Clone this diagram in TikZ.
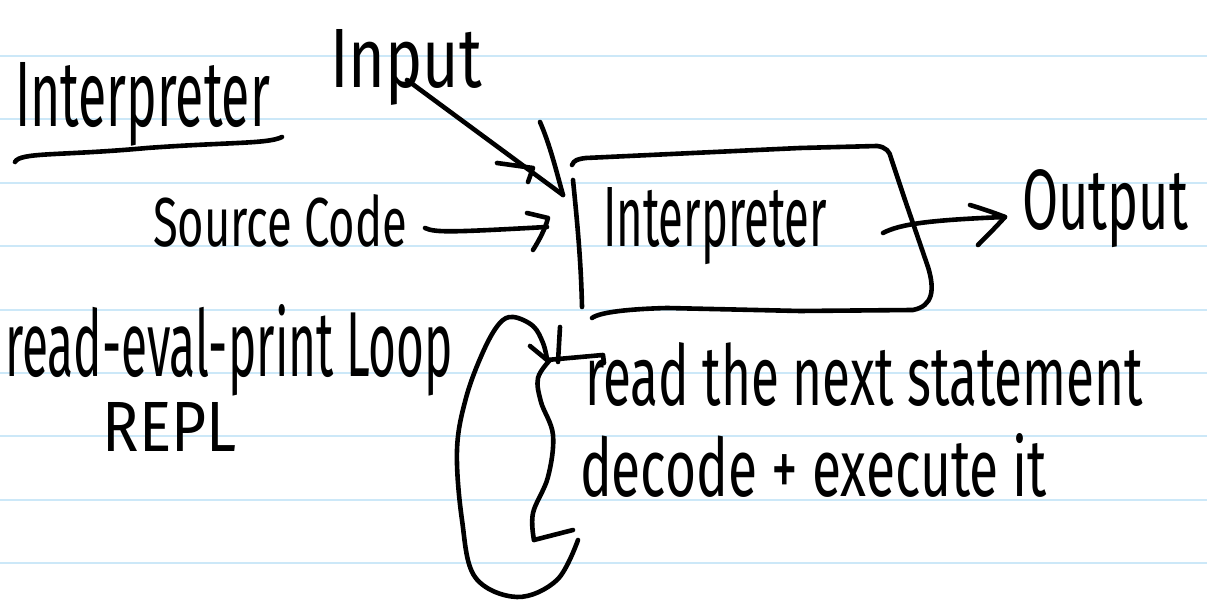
\documentclass[tikz,border=0pt]{standalone}
\usepackage{fontspec}
\setmainfont{Fira Sans}
\usepackage{graphicx}
\newlength\pxu
\setlength\pxu{0.5pt}
\newcommand{\hw}[3]{\resizebox{#1\pxu}{#2\pxu}{#3}}
\definecolor{rulecol}{RGB}{204,232,248}
\tikzset{
  pen/.style={line width=2.3pt, line cap=round, line join=round, black},
  txt/.style={inner sep=0pt, outer sep=0pt, anchor=base west},
  ruling/.style={line width=1pt, rulecol}
}
\begin{document}
\begin{tikzpicture}[x=0.5pt,y=-0.5pt]
\useasboundingbox (0,0) rectangle (1207,608);
\fill[white] (0,0) rectangle (1207,608);
% ruled lines
\foreach \k in {0,...,8}{
  \draw[ruling] (0,{56+63.4*\k}) -- (1207,{56+63.4*\k});
}
% texts
\node[txt] (title) at (15,127) {\hw{255}{64}{Interpreter}};
\node[txt] (input) at (330,88) {\hw{152}{58}{Input}};
\node[txt] (src) at (153,247) {\hw{254}{52}{Source Code}};
\node[txt] (interp) at (603,247) {\hw{224}{59}{Interpreter}};
\node[txt] (out) at (1022,230) {\hw{166}{60}{Output}};
\node[txt] (repl1) at (5,377) {\hw{448}{72}{read-eval-print Loop}};
\node[txt] (repl2) at (103,452) {\hw{134}{49}{REPL}};
\node[txt] (step1) at (585,406) {\hw{558}{63}{read the next statement}};
\node[txt] (step2) at (580,497) {\hw{467}{63}{decode + execute it}};
% underline
\draw[pen] (15,162) .. controls (20,152) and (60,156) .. (147,148)
  .. controls (230,142) and (268,144) .. (282,137);
% box
\draw[pen] (572,165) .. controls (574,160) and (578,159) .. (586,158)
  -- (800,148) -- (877,146) .. controls (886,147) and (890,152) .. (891,158)
  -- (905,200) -- (928,267) .. controls (935,290) and (933,306) .. (913,310)
  -- (800,311) -- (667,308) .. controls (630,309) and (600,312) .. (592,318);
\draw[pen] (573,180) .. controls (577,220) and (581,260) .. (582,307);
% Input arrow
\coordinate (inA) at (407,80);
\coordinate (inTip) at (563,195);
\draw[pen] (inA) -- (inTip);
\draw[pen] (540,122) .. controls (550,145) and (556,170) .. (inTip);
\draw[pen] (497,163) -- (533,168) -- (528,182);
% Source arrow
\coordinate (srcA) at (425,228);
\coordinate (srcTip) at (548,218);
\draw[pen] (srcA) .. controls (435,233) and (455,232) .. (547,227);
\draw[pen] (527,213) -- (srcTip) .. controls (545,230) and (538,242) .. (533,250);
% Output arrow
\coordinate (outA) at (883,233);
\coordinate (outTip) at (1005,217);
\draw[pen] (outA) .. controls (900,224) and (930,220) .. (outTip);
\draw[pen] (970,205) .. controls (980,208) and (995,213) .. (outTip)
  .. controls (995,228) and (985,238) .. (978,245);
% loop
\draw[pen] plot[smooth, tension=0.6] coordinates {(578,540) (557,580) (517,597) (475,577) (462,520) (457,450) (466,398) (483,352) (499,324) (513,317) (533,326) (543,343) (547,359)};
\draw[pen] (530,346) -- (547,360);
\draw[pen] (560,327) -- (558,362);
\draw[pen] (547,360) -- (603,355) -- (604,363);
% brace
\draw[pen] plot[smooth, tension=0.6] coordinates {(550,360) (538,378) (541,402) (553,435) (548,477) (533,513) (534,540)};
\draw[pen] (534,540) -- (573,530);
\end{tikzpicture}
\end{document}
